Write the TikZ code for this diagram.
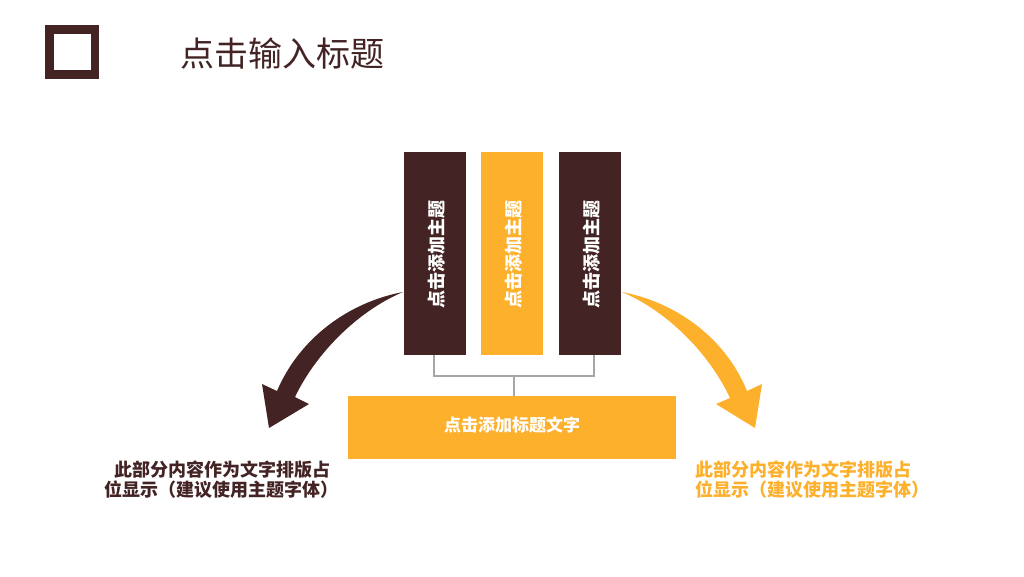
\documentclass[tikz,border=0pt]{standalone}
\usepackage{fontspec}
\setmainfont{Noto Sans CJK SC}
\definecolor{darkbrown}{HTML}{432323}
\definecolor{amber}{HTML}{FDB02B}
\newcommand{\barlabel}[1]{\hspace*{3pt}\rotatebox{90}{#1\hspace*{2pt}}}
\tikzset{
    barbox/.style={minimum width=46.5pt,minimum height=152.25pt,inner sep=0pt,font=\fontsize{13.5}{16}\selectfont\bfseries,text=white},
    note/.style={font=\fontsize{13.5}{15}\selectfont\bfseries,inner sep=0pt},
    bracket/.style={draw=black!35,line width=0.8pt}
}
\begin{document}
\begin{tikzpicture}[x=0.75pt,y=-0.75pt]
    \useasboundingbox (0,0) rectangle (1024,576);
    \fill [white] (0,0) rectangle (1024,576);

    \node [draw=darkbrown,line width=6.6pt,minimum size=34pt,inner sep=0pt] (logo) at (72.3,52) {};
    \node [text=darkbrown,font=\fontsize{25.5}{30}\selectfont,inner sep=0pt] (title) at (282,54) {点击输入标题};

    \node [barbox,fill=darkbrown] (barleft) at (434.5,253.5) {\barlabel{点击添加主题}};
    \node [barbox,fill=amber] (barmid) at (512,253.5) {\barlabel{点击添加主题}};
    \node [barbox,fill=darkbrown] (barright) at (590,253.5) {\barlabel{点击添加主题}};
    \node [fill=amber,minimum width=246pt,minimum height=47.25pt,inner sep=0pt,text=white,font=\fontsize{12.75}{15}\selectfont\bfseries] (base) at (512,427.5) {\raisebox{5pt}{点击添加标题文字}};

    \coordinate (join) at (513.5,376);
    \draw [bracket] ([xshift=-0.4pt]barleft.south) |- (join);
    \draw [bracket] ([xshift=3pt]barright.south) |- (join);
    \draw [bracket,line width=1.5pt] (join) -- (join |- base.north);

    \fill [darkbrown] (403,292) .. controls (350,302) and (300,337) .. (277,391)
        -- (262,384) -- (269,428) -- (309,404) -- (295,397)
        .. controls (316,353) and (358,311) .. (403,292) -- cycle;
    \fill [amber] (622,292) .. controls (675,302) and (725,337) .. (747,391)
        -- (762,384) -- (755,428) -- (716,404) -- (730,398)
        .. controls (709,353) and (667,311) .. (622,292) -- cycle;

    \node [note,text=darkbrown,align=right,anchor=east] (noteleft) at (331,479.5) {此部分内容作为文字排版占\\位显示（建议使用主题字体）\hspace*{-6pt}};
    \node [note,text=amber,align=left,anchor=west] (noteright) at (695,479.5) {此部分内容作为文字排版占\\位显示（建议使用主题字体）};
\end{tikzpicture}
\end{document}
